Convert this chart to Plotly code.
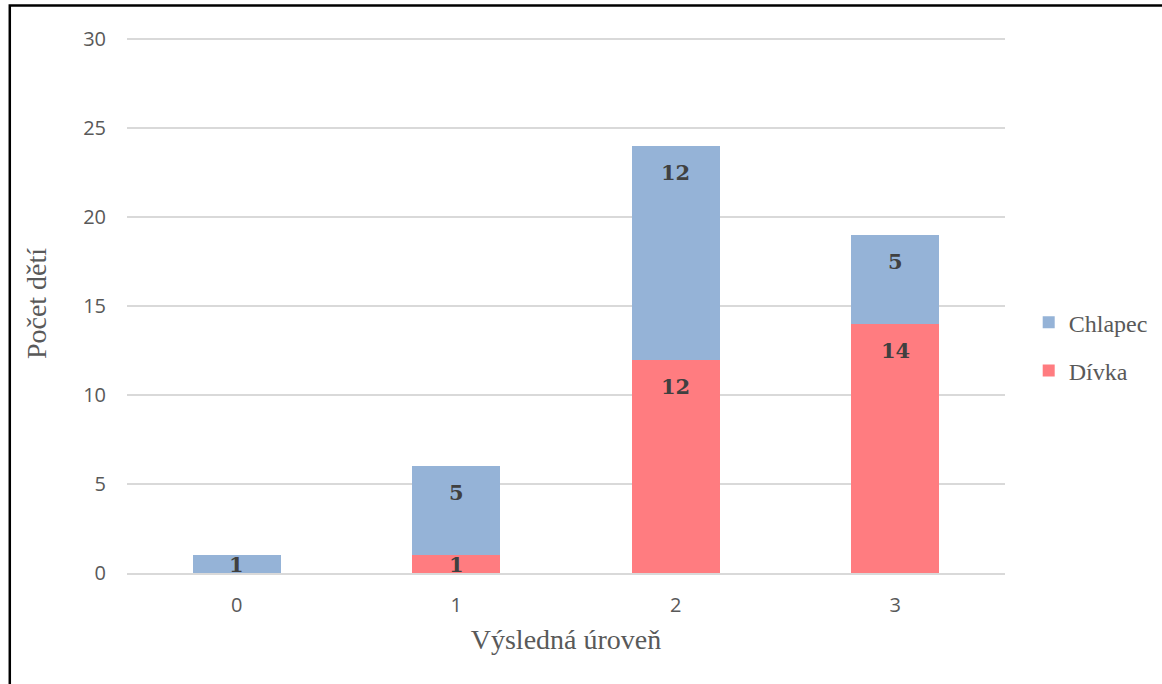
import plotly.graph_objects as go

# Stacked counts of children per resulting level, split by sex
levels = ["0", "1", "2", "3"]
divka = [0, 1, 12, 14]
chlapec = [1, 5, 12, 5]

series_names = ["Dívka", "Chlapec"]
series_colors = ["#FF7C80", "#95B3D7"]
legend_ranks = [2, 1]  # Chlapec listed above Dívka

label_font = dict(family="DejaVu Serif", size=21, color="#404040")
INSET = 1.5  # label inset below a segment's top, in data units

fig = go.Figure()
for name, vals, color, rank in zip(series_names, [divka, chlapec],
                                   series_colors, legend_ranks):
    fig.add_trace(go.Bar(
        x=levels, y=vals, name=name, legendgroup=name, legendrank=rank,
        marker=dict(color=color, line=dict(width=0)),
        hoverinfo="x+y+name",
    ))

# Data labels placed near the inner top of each stacked segment
annotations = []
base = [0] * len(levels)
for vals in [divka, chlapec]:
    for i, v in enumerate(vals):
        top = base[i] + v
        if v:
            annotations.append(dict(
                x=levels[i], y=top - min(INSET, v / 2), xref="x", yref="y",
                text=f"<b>{v}</b>", showarrow=False, font=label_font,
                yanchor="middle",
            ))
        base[i] = top

fig.update_layout(
    width=1162, height=684,
    margin=dict(l=127, r=157, t=34, b=111, autoexpand=False),
    paper_bgcolor="white", plot_bgcolor="white",
    barmode="stack", bargap=0.6,
    font=dict(family="Open Sans", color="#595959"),
    xaxis=dict(
        title=dict(text="Výsledná úroveň", standoff=13,
                   font=dict(family="Liberation Serif", size=28, color="#595959")),
        tickfont=dict(size=20, color="#595959"), showgrid=False,
        showline=True, linecolor="#D9D9D9", linewidth=1.5, ticks="",
        ticklabelstandoff=13,
    ),
    yaxis=dict(
        title=dict(text="Počet dětí", standoff=28,
                   font=dict(family="Liberation Serif", size=28, color="#595959")),
        range=[0, 30.3], tickvals=[0, 5, 10, 15, 20, 25, 30],
        tickfont=dict(size=20, color="#595959"),
        gridcolor="#D9D9D9", gridwidth=1.5, zeroline=False, ticks="",
        ticklabelstandoff=20,
    ),
    legend=dict(
        x=1.027, y=0.42, xanchor="left", yanchor="middle",
        traceorder="grouped", tracegroupgap=14,
        font=dict(family="Liberation Serif", size=24, color="#595959"),
        itemwidth=30,
    ),
    annotations=annotations,
    shapes=[dict(
        type="rect", xref="paper", yref="paper",
        x0=-0.1335, x1=1.25, y0=-0.35, y1=1.053,
        line=dict(color="black", width=2.5), fillcolor="rgba(0,0,0,0)",
    )],
)

fig.write_html("out.html")
